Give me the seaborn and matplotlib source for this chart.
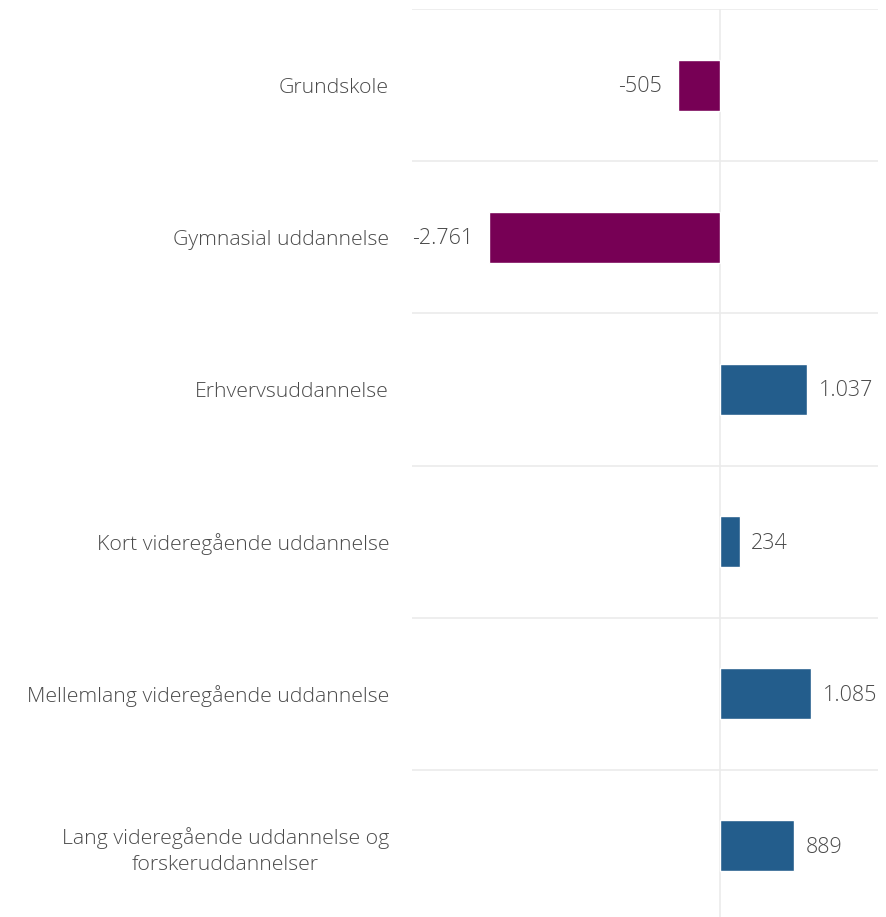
import seaborn as sns
import matplotlib.pyplot as plt
import pandas as pd

# Data
categories = [
    "Grundskole",
    "Gymnasial uddannelse",
    "Erhvervsuddannelse",
    "Kort videregående uddannelse",
    "Mellemlang videregående uddannelse",
    "Lang videregående uddannelse og\nforskeruddannelser",
]
values = [-505, -2761, 1037, 234, 1085, 889]
value_labels = ["-505", "-2.761", "1.037", "234", "1.085", "889"]

df = pd.DataFrame({"category": categories, "value": values})
df["sign"] = ["neg" if v < 0 else "pos" for v in values]

sns.set_style("white")
plt.rcParams["font.family"] = ["Open Sans", "DejaVu Sans"]
text_color = "#4a4a4a"

fig = plt.figure(figsize=(8.87, 9.17), dpi=100)
ax = fig.add_axes([412 / 887, -5 / 917, (878 - 412) / 887, 913 / 917])

sns.barplot(data=df, y="category", x="value", hue="sign",
            palette={"neg": "#770055", "pos": "#235D8C"},
            orient="h", width=0.335, legend=False, ax=ax, saturation=1)

# row separators and zero line
for b in range(len(categories)):
    ax.axhline(b - 0.5, color="#ebebeb", lw=1.2, zorder=0)
ax.axvline(0, color="#ebebeb", lw=1.2, zorder=0)

ax.set_xlim(-3681, 1888)
ax.set_ylim(len(categories) - 0.5, -0.5)

# value labels
for i, (v, lab) in enumerate(zip(values, value_labels)):
    off = 140 if v >= 0 else -190
    ax.text(v + off, i + 0.01, lab, ha="left" if v >= 0 else "right", va="center",
            fontsize=15.5, color=text_color, fontweight="light")

ax.set_yticks(range(len(categories)))
ax.set_yticklabels(categories, fontsize=15.3, color=text_color, fontweight="light",
                   multialignment="center", linespacing=1.35)
ax.tick_params(axis="y", length=0, pad=16.5)
ax.set_xticks([])
ax.set_xlabel("")
ax.set_ylabel("")
sns.despine(ax=ax, left=True, bottom=True)

fig.savefig("out.png", dpi=100)
